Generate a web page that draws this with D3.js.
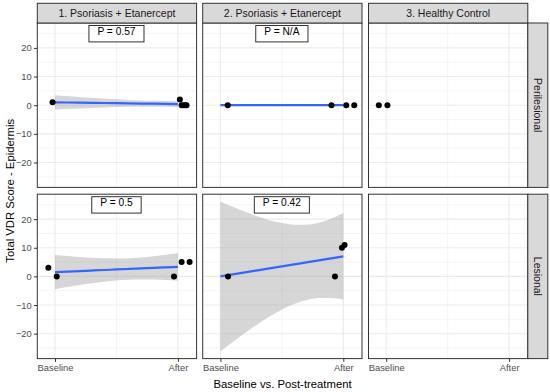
<!DOCTYPE html>
<html><head><meta charset="utf-8">
<script src="https://cdn.jsdelivr.net/npm/d3@7"></script>
<style>body{margin:0;background:#fff}svg{display:block;font-family:"Liberation Sans",Arial,sans-serif}</style>
</head><body><svg id="c" width="550" height="392"></svg>
<script>
// ---------- data ----------
const colFacets = ["1. Psoriasis + Etanercept", "2. Psoriasis + Etanercept", "3. Healthy Control"];
const rowFacets = ["Perilesional", "Lesional"];
const xTickLabels = ["Baseline", "After"];
const xTickValues = [1, 2];
const yTickValues = [-20, -10, 0, 10, 20];
const pLabels = [["P = 0.57", "P = N/A", null], ["P = 0.5", "P = 0.42", null]];

// points (x = jittered group position, 1 = Baseline, 2 = After)
const peri1X = [0.98, 2.016, 2.03, 2.045, 2.06, 2.07];
const peri1Y = [1, 2, 0, 0, 0, 0];
const peri2X = [1.06, 1.904, 2.024, 2.089];
const peri2Y = [0, 0, 0, 0];
const peri3X = [0.94, 1.01];
const peri3Y = [0, 0];
const les1X = [0.946, 1.014, 1.968, 2.03, 2.095];
const les1Y = [3, 0, 0, 5, 5];
const les2X = [1.062, 1.932, 1.989, 2.01];
const les2Y = [0, 0, 10, 11];
const les3X = [];
const les3Y = [];

// smooth lines and confidence bands (read at x = 1.0, 1.1, ..., 2.0)
const smoothX = [1.0, 1.1, 1.2, 1.3, 1.4, 1.5, 1.6, 1.7, 1.8, 1.9, 2.0];
const peri1Fit = [1.00, 0.94, 0.88, 0.82, 0.76, 0.70, 0.64, 0.58, 0.52, 0.46, 0.40];
const peri1Hi  = [3.48, 3.18, 2.88, 2.59, 2.32, 2.06, 1.84, 1.66, 1.54, 1.49, 1.51];
const peri1Lo  = [-1.48, -1.30, -1.12, -0.95, -0.80, -0.66, -0.56, -0.50, -0.50, -0.57, -0.71];
const peri2Fit = [0, 0, 0, 0, 0, 0, 0, 0, 0, 0, 0];
const les1Fit = [1.50, 1.68, 1.87, 2.05, 2.23, 2.42, 2.60, 2.78, 2.97, 3.15, 3.33];
const les1Hi  = [7.48, 7.08, 6.75, 6.48, 6.32, 6.27, 6.38, 6.64, 7.05, 7.58, 8.21];
const les1Lo  = [-4.48, -3.72, -3.01, -2.38, -1.85, -1.44, -1.18, -1.07, -1.12, -1.28, -1.55];
const les2Fit = [0.0, 0.7, 1.4, 2.1, 2.8, 3.5, 4.2, 4.9, 5.6, 6.3, 7.0];
const les2Hi  = [26.17, 24.30, 22.55, 20.97, 19.62, 18.61, 18.05, 18.07, 18.77, 20.15, 22.11];
const les2Lo  = [-26.17, -22.90, -19.75, -16.77, -14.02, -11.61, -9.65, -8.27, -7.57, -7.55, -8.11];

const panels = [
  [{px: peri1X, py: peri1Y, fit: peri1Fit, hi: peri1Hi, lo: peri1Lo},
   {px: peri2X, py: peri2Y, fit: peri2Fit, hi: null, lo: null},
   {px: peri3X, py: peri3Y, fit: null}],
  [{px: les1X, py: les1Y, fit: les1Fit, hi: les1Hi, lo: les1Lo},
   {px: les2X, py: les2Y, fit: les2Fit, hi: les2Hi, lo: les2Lo},
   {px: les3X, py: les3Y, fit: null}]
];

// ---------- layout ----------
const svg = d3.select("#c");
const colLeft = [37.3, 202.7, 368.5];
const pw = 159.3;
const rowTop = [23, 194.2];
const ph = 164.4;
const stripTopY = 3.3, stripH = 19.7;
const stripRightX = 527.8, stripW = 20;
const yDomain = [-28.7, 28.7];
const xDomain = [0.856, 2.152];
const BLUE = "#3366FF";

rowFacets.forEach((rowName, r) => {
  colFacets.forEach((colName, c) => {
    const L = colLeft[c], T = rowTop[r];
    const x = d3.scaleLinear().domain(xDomain).range([L, L + pw]);
    const y = d3.scaleLinear().domain(yDomain).range([T + ph, T]);
    const g = svg.append("g");
    g.append("rect").attr("x", L).attr("y", T).attr("width", pw).attr("height", ph).attr("fill", "#fff");
    // minor grid
    const yMinor = [-25, -15, -5, 5, 15, 25];
    g.selectAll(".ym").data(yMinor).join("line")
      .attr("x1", L).attr("x2", L + pw).attr("y1", d => y(d)).attr("y2", d => y(d))
      .attr("stroke", "#ebebeb").attr("stroke-width", 0.55);
    g.selectAll(".xm").data([1.5]).join("line")
      .attr("y1", T).attr("y2", T + ph).attr("x1", d => x(d)).attr("x2", d => x(d))
      .attr("stroke", "#ebebeb").attr("stroke-width", 0.55);
    // major grid
    g.selectAll(".yM").data(yTickValues).join("line")
      .attr("x1", L).attr("x2", L + pw).attr("y1", d => y(d)).attr("y2", d => y(d))
      .attr("stroke", "#ebebeb").attr("stroke-width", 1.1);
    g.selectAll(".xM").data(xTickValues).join("line")
      .attr("y1", T).attr("y2", T + ph).attr("x1", d => x(d)).attr("x2", d => x(d))
      .attr("stroke", "#ebebeb").attr("stroke-width", 1.1);

    const p = panels[r][c];
    if (p.hi) {
      const area = d3.area().x((d, i) => x(smoothX[i])).y0((d, i) => y(p.lo[i])).y1((d, i) => y(p.hi[i]))
        .curve(d3.curveMonotoneX);
      g.append("path").datum(smoothX).attr("d", area).attr("fill", "#999999").attr("fill-opacity", 0.4);
    }
    if (p.fit) {
      const line = d3.line().x((d, i) => x(smoothX[i])).y((d, i) => y(p.fit[i])).curve(d3.curveMonotoneX);
      g.append("path").datum(smoothX).attr("d", line).attr("fill", "none").attr("stroke", BLUE).attr("stroke-width", 2.2);
    }
    g.selectAll("circle").data(p.px).join("circle")
      .attr("cx", d => x(d)).attr("cy", (d, i) => y(p.py[i])).attr("r", 3).attr("fill", "#000");

    // p-value label
    const lab = pLabels[r][c];
    if (lab) {
      const cx = x(1.5);
      const t = g.append("text").attr("x", cx).attr("y", T + 11.5).attr("text-anchor", "middle")
        .attr("font-size", "10.2px").attr("fill", "#000").text(lab);
      const w = t.node().getComputedTextLength();
      g.insert("rect", "text").attr("x", cx - w / 2 - 8.5).attr("y", T + 2.5).attr("width", w + 17).attr("height", 16.4)
        .attr("fill", "#fff").attr("stroke", "#333").attr("stroke-width", 1.0).attr("rx", 0);
    }
    // border
    g.append("rect").attr("x", L).attr("y", T).attr("width", pw).attr("height", ph)
      .attr("fill", "none").attr("stroke", "#333333").attr("stroke-width", 1.0);

    // y axis (left column)
    if (c === 0) {
      const ax = svg.append("g").attr("transform", `translate(${L},0)`)
        .call(d3.axisLeft(y).tickValues(yTickValues).tickSize(3.3).tickPadding(2.2).tickFormat(d => d < 0 ? "\u2212" + Math.abs(d) : d));
      ax.select(".domain").remove();
      ax.selectAll(".tick line").attr("stroke", "#333");
      ax.selectAll("text").attr("fill", "#4d4d4d").attr("font-size", "9.4px").attr("font-family", "Liberation Sans, Arial, sans-serif");
    }
    // x axis (bottom row)
    if (r === rowFacets.length - 1) {
      const ax = svg.append("g").attr("transform", `translate(0,${T + ph})`)
        .call(d3.axisBottom(x).tickValues(xTickValues).tickSize(3.3).tickPadding(2.0).tickFormat((d, i) => xTickLabels[i]));
      ax.select(".domain").remove();
      ax.selectAll(".tick line").attr("stroke", "#333");
      ax.selectAll("text").attr("fill", "#4d4d4d").attr("font-size", "9.4px").attr("font-family", "Liberation Sans, Arial, sans-serif");
    }
  });
});

// top strips
colFacets.forEach((name, c) => {
  svg.append("rect").attr("x", colLeft[c]).attr("y", stripTopY).attr("width", pw).attr("height", stripH)
    .attr("fill", "#d9d9d9").attr("stroke", "#333333").attr("stroke-width", 1.0);
  svg.append("text").attr("x", colLeft[c] + pw / 2).attr("y", stripTopY + stripH / 2).attr("dy", "0.36em")
    .attr("text-anchor", "middle").attr("font-size", "10.5px").attr("fill", "#1a1a1a").text(name);
});
// right strips
rowFacets.forEach((name, r) => {
  svg.append("rect").attr("x", stripRightX).attr("y", rowTop[r]).attr("width", stripW).attr("height", ph)
    .attr("fill", "#d9d9d9").attr("stroke", "#333333").attr("stroke-width", 1.0);
  const cx = stripRightX + stripW / 2, cy = rowTop[r] + ph / 2;
  svg.append("text").attr("transform", `translate(${cx},${cy}) rotate(90)`).attr("dy", "0.36em")
    .attr("text-anchor", "middle").attr("font-size", "10.5px").attr("fill", "#1a1a1a").text(name);
});

// axis titles
svg.append("text").attr("x", (colLeft[0] + colLeft[2] + pw) / 2).attr("y", 384).attr("dy", "0.36em")
  .attr("text-anchor", "middle").attr("font-size", "11.3px").attr("fill", "#000").text("Baseline vs. Post-treatment");
svg.append("text").attr("transform", `translate(10,${(rowTop[0] + rowTop[1] + ph) / 2}) rotate(-90)`).attr("dy", "0.36em")
  .attr("text-anchor", "middle").attr("font-size", "11.3px").attr("fill", "#000").text("Total VDR Score - Epidermis");
</script></body></html>
